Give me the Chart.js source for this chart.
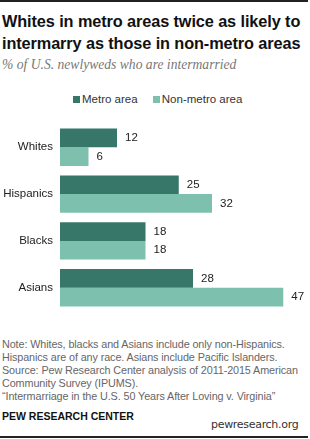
<!DOCTYPE html>
<html>
<head>
<meta charset="utf-8">
<script src="https://cdn.jsdelivr.net/npm/chart.js@4"></script>
<style>
  body { margin: 0; width: 310px; height: 439px; background: #fff; position: relative; overflow: hidden; font-family: 'Liberation Sans', Arial, sans-serif; }
  .rule { position: absolute; left: 0; width: 308px; height: 2px; background: #222; }
  .title { position: absolute; left: 2px; top: 10px; font-weight: bold; font-size: 16.3px; line-height: 22px; color: #111; letter-spacing: -0.1px; }
  .subtitle { position: absolute; left: 2px; top: 57px; font-family: 'Liberation Serif', serif; font-style: italic; font-size: 13.6px; color: #777; }
  .legend { position: absolute; top: 93px; left: 73px; font-size: 11.5px; color: #333; white-space: nowrap; }
  .legend span.sw { display: inline-block; width: 7px; height: 7px; margin-right: 2px; vertical-align: 0px; }
  .legend .item { margin-right: 12px; }
  #wrap { position: absolute; left: 0; top: 110px; width: 310px; height: 215px; }
  .note { position: absolute; left: 2px; top: 338px; font-size: 10.8px; line-height: 12.9px; color: #666; letter-spacing: -0.1px; }
  .org { position: absolute; left: 2px; top: 410px; font-size: 10.5px; font-weight: bold; color: #111; }
  .site { position: absolute; left: 211px; top: 418px; font-size: 11px; color: #333; font-family: 'DejaVu Sans', sans-serif; letter-spacing: -0.3px; }
</style>
</head>
<body>
<div class="rule" style="top:0"></div>
<div class="title">Whites in metro areas twice as likely to<br>intermarry as those in non-metro areas</div>
<div class="subtitle">% of U.S. newlyweds who are intermarried</div>
<div class="legend">
  <span class="item"><span class="sw" style="background:#37776a"></span>Metro area</span>
  <span><span class="sw" style="background:#7dc0ae"></span>Non-metro area</span>
</div>
<div id="wrap"><canvas id="chart"></canvas></div>
<div class="note">Note: Whites, blacks and Asians include only non-Hispanics.<br>Hispanics are of any race. Asians include Pacific Islanders.<br>Source: Pew Research Center analysis of 2011-2015 American<br>Community Survey (IPUMS).<br>“Intermarriage in the U.S. 50 Years After Loving v. Virginia”</div>
<div class="org">PEW RESEARCH CENTER</div>
<div class="site">pewresearch.org</div>
<div class="rule" style="top:436px"></div>

<script>
const categories = ['Whites', 'Hispanics', 'Blacks', 'Asians'];
const metroValues = [12, 25, 18, 28];
const nonMetroValues = [6, 32, 18, 47];

const METRO_COLOR = '#37776a';
const NONMETRO_COLOR = '#7dc0ae';

/** Draws the value next to the end of each bar */
const valueLabels = {
  id: 'valueLabels',
  afterDatasetsDraw(chart) {
    const { ctx } = chart;
    ctx.save();
    ctx.font = '11.5px "Liberation Sans", Arial, sans-serif';
    ctx.fillStyle = '#222';
    ctx.textAlign = 'left';
    ctx.textBaseline = 'middle';
    chart.data.datasets.forEach((ds, i) => {
      chart.getDatasetMeta(i).data.forEach((bar, j) => {
        ctx.fillText(String(ds.data[j]), bar.x + 8, bar.y);
      });
    });
    ctx.restore();
  },
};

new Chart(document.getElementById('chart'), {
  type: 'bar',
  data: {
    labels: categories,
    datasets: [
      { label: 'Metro area', data: metroValues, backgroundColor: METRO_COLOR },
      { label: 'Non-metro area', data: nonMetroValues, backgroundColor: NONMETRO_COLOR },
    ],
  },
  options: {
    indexAxis: 'y',
    responsive: true,
    maintainAspectRatio: false,
    animation: false,
    categoryPercentage: 0.8,
    barPercentage: 1.0,
    layout: { padding: { top: 6.5, bottom: 5.5, left: 0, right: 12.5 } },
    plugins: {
      legend: { display: false },
      tooltip: { enabled: false },
    },
    scales: {
      x: { display: false, min: 0, max: 50 },
      y: {
        grid: { display: false, drawTicks: false },
        border: { display: false },
        ticks: { padding: 7, color: '#222', font: { family: 'Liberation Sans', size: 11.5 } },
        afterFit(scale) { scale.width = 60; },
      },
    },
  },
  plugins: [valueLabels],
});
</script>
</body>
</html>
